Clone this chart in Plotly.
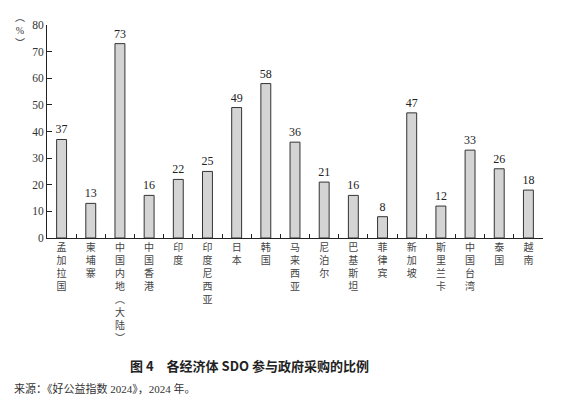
import plotly.graph_objects as go

# Datos
categorias = ["孟加拉国", "柬埔寨", "中国内地︵大陆︶", "中国香港", "印度", "印度尼西亚",
              "日本", "韩国", "马来西亚", "尼泊尔", "巴基斯坦", "菲律宾", "新加坡",
              "斯里兰卡", "中国台湾", "泰国", "越南"]
valores = [37, 13, 73, 16, 22, 25, 49, 58, 36, 21, 16, 8, 47, 12, 33, 26, 18]
y_ticks = [0, 10, 20, 30, 40, 50, 60, 70, 80]

titulo = "图 4　各经济体 SDO 参与政府采购的比例"
fuente = "来源：《好公益指数 2024》，2024 年。"
unidad = "︵%︶"

SERIF = "Liberation Serif, Times New Roman, Noto Sans CJK SC, serif"
# la página deja 8 px de margen en el body, así que la figura es algo menor
OFF = 8
W, H = 575 - 2 * OFF, 405 - 2 * OFF
L, T = 47 - OFF, 25 - OFF
R = W - (543 - OFF)
B = H - (238 - OFF)


def vertical(txt):
    # apila los caracteres uno debajo del otro
    return "<br>".join(list(txt))


etiquetas = [vertical(c) for c in categorias]

fig = go.Figure(data=go.Bar(
    x=etiquetas,
    y=valores,
    width=0.34,
    marker=dict(color="#d4d4d4", line=dict(color="#333333", width=1)),
    text=valores,
    textposition="outside",
    constraintext="none",
    textfont=dict(family=SERIF, size=12, color="#222222"),
    cliponaxis=False,
))

fig.update_layout(
    autosize=False,
    width=W,
    height=H,
    showlegend=False,
    plot_bgcolor="white",
    paper_bgcolor="white",
    bargap=0.66,
    font=dict(family=SERIF, size=11, color="#333333"),
    margin=dict(l=L, r=R, t=T, b=B, pad=0),
)

fig.update_xaxes(
    type="category",
    automargin=False,
    showline=True,
    linecolor="#222222",
    linewidth=1,
    ticks="inside",
    tickson="boundaries",
    ticklen=4,
    tickcolor="#222222",
    showgrid=False,
    tickangle=0,
    tickfont=dict(family="Noto Sans CJK SC", size=10, color="#444444"),
)

fig.update_yaxes(
    range=[0, 80],
    automargin=False,
    tickvals=y_ticks,
    showline=True,
    linecolor="#222222",
    linewidth=1,
    ticks="inside",
    ticklen=5,
    tickcolor="#222222",
    showgrid=False,
    zeroline=False,
    tickfont=dict(family=SERIF, size=11.5, color="#333333"),
)

pw = W - L - R
ph = H - T - B


# coordenadas de la imagen de referencia -> papel
def px(x):
    return (x - OFF - L) / pw


def py(y):
    return (H - B - (y - OFF)) / ph


# Etiqueta del eje y
fig.add_annotation(
    text=vertical(unidad), x=px(13), y=py(31),
    xref="paper", yref="paper", showarrow=False, yanchor="middle",
    font=dict(family=SERIF, size=10, color="#333333"),
)

# Título
fig.add_annotation(
    text="<b>" + titulo + "</b>", x=px(249), y=py(365),
    xref="paper", yref="paper", showarrow=False,
    xanchor="center", yanchor="middle",
    font=dict(family="Noto Sans CJK SC", size=13, color="#222222"),
)

# Fuente
fig.add_annotation(
    text=fuente, x=px(12), y=py(388),
    xref="paper", yref="paper", showarrow=False,
    xanchor="left", yanchor="middle",
    font=dict(family=SERIF, size=11, color="#333333"),
)

fig.write_html("out.html")
